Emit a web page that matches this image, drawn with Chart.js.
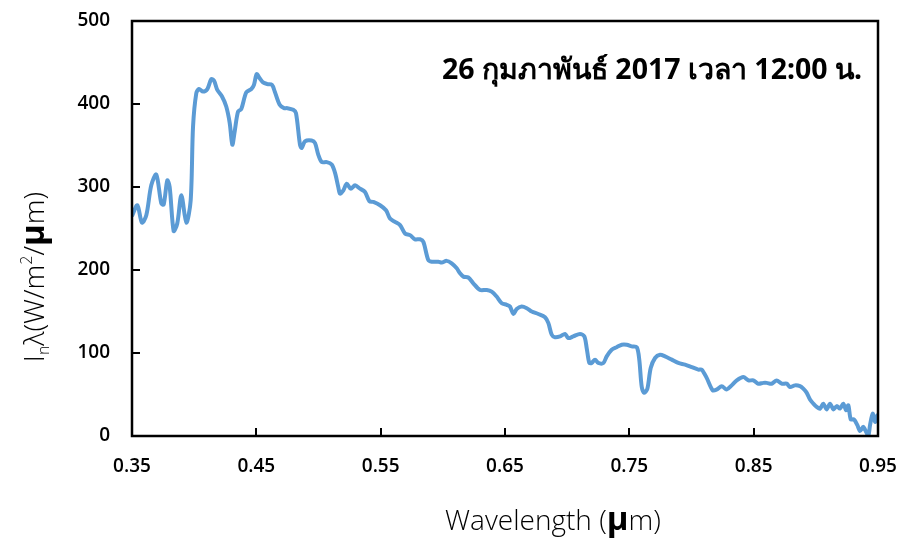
<!DOCTYPE html>
<html>
<head>
<meta charset="utf-8">
<title>Solar spectral irradiance</title>
<script src="https://cdn.jsdelivr.net/npm/chart.js@4"></script>
<style>
    html, body { margin: 0; padding: 0; background: #fff; }
    #wrap { width: 904px; height: 539px; }
</style>
</head>
<body>
<div id="wrap"><canvas id="spectrumChart" width="904" height="539"></canvas></div>
<script>
// Wavelength (µm) and direct normal irradiance (W/m²/µm)
const wavelengths = [
    0.350, 0.3543, 0.3580, 0.3615, 0.3655, 0.3695, 0.3736, 0.3755, 0.3784, 0.3803,
    0.3835, 0.3864, 0.3897, 0.3937, 0.3972, 0.3991, 0.4017, 0.4039, 0.4071, 0.4106,
    0.4138, 0.4160, 0.4186, 0.4224, 0.4258, 0.4286, 0.4307, 0.4326, 0.4353, 0.4379,
    0.4419, 0.4460, 0.4481, 0.4503, 0.4527, 0.4554, 0.4588, 0.4626, 0.4648, 0.4688,
    0.4723, 0.4749, 0.4797, 0.4819, 0.4851, 0.4865, 0.4891, 0.4945, 0.4972, 0.4998,
    0.5026, 0.5066, 0.5106, 0.5133, 0.5159, 0.5173, 0.5200, 0.5227, 0.5259, 0.5294,
    0.5334, 0.5374, 0.5409, 0.5441, 0.5495, 0.5543, 0.5575, 0.5615, 0.5656, 0.5696,
    0.5736, 0.5776, 0.5816, 0.5843, 0.5883, 0.5911, 0.5964, 0.5991, 0.6031, 0.6071,
    0.6112, 0.6138, 0.6165, 0.6205, 0.6245, 0.6299, 0.6353, 0.6393, 0.6433, 0.6474,
    0.6514, 0.6540, 0.6567, 0.6594, 0.6634, 0.6675, 0.6715, 0.6768, 0.6822, 0.6849,
    0.6876, 0.6902, 0.6943, 0.6983, 0.7009, 0.7049, 0.7103, 0.7138, 0.7157, 0.7178,
    0.7197, 0.7224, 0.7250, 0.7291, 0.7318, 0.7358, 0.7398, 0.7439, 0.7479, 0.7519,
    0.7560, 0.7580, 0.7600, 0.7620, 0.7645, 0.7672, 0.7707, 0.7747, 0.7787, 0.7841,
    0.7894, 0.7948, 0.8002, 0.8055, 0.8082, 0.8122, 0.8171, 0.8203, 0.8243, 0.8283,
    0.8323, 0.8364, 0.8417, 0.8458, 0.8498, 0.8537, 0.8578, 0.8605, 0.8645, 0.8685,
    0.8725, 0.8766, 0.8792, 0.8832, 0.8873, 0.8899, 0.8927, 0.8953, 0.8980, 0.9007,
    0.9034, 0.9060, 0.9087, 0.9114, 0.9141, 0.9168, 0.9194, 0.9221, 0.9243, 0.9261,
    0.9281, 0.9307, 0.9334, 0.9355, 0.9382, 0.9404, 0.9422, 0.9436, 0.9457, 0.9476,
    0.9495, 0.9503
];
const irradiance = [
    265, 278, 257, 266, 302, 315, 280, 279, 308, 300,
    247, 256, 290, 257, 284, 373, 413, 418, 415, 418,
    430, 428, 417, 409, 397, 377, 351, 367, 391, 394,
    414, 418, 423, 436, 431, 426, 424, 423, 415, 399,
    395, 395, 393, 389, 351, 347, 355, 356, 353, 339,
    330, 330, 327, 317, 300, 292, 296, 304, 298, 302,
    298, 294, 283, 282, 278, 272, 262, 258, 254, 244,
    242, 237, 237, 234, 212, 210, 210, 209, 211, 208,
    202, 196, 192, 191, 184, 176, 176, 174, 168, 160,
    158, 156, 147, 153, 156, 154, 150, 147, 143, 136,
    122, 119, 120, 123, 118, 120, 123, 120, 106, 88,
    88, 92, 88, 88, 96, 104, 107, 110, 110, 108,
    107, 92, 59, 52, 57, 82, 94, 98, 96, 92,
    88, 86, 83, 80, 80, 70, 55, 56, 60, 56,
    61, 67, 71, 67, 67, 63, 64, 64, 63, 67,
    63, 63, 59, 61, 60, 57, 52, 44, 39, 35,
    33, 39, 32, 39, 32, 36, 33, 39, 31, 37,
    20, 20, 13, 6, 11, 5, 0, 13, 27, 17,
    25, 21
];

const xTickValues = [0.35, 0.45, 0.55, 0.65, 0.75, 0.85, 0.95];
const yTickValues = [0, 100, 200, 300, 400, 500];
const chartTitle = '26 กุมภาพันธ์ 2017 เวลา 12:00 น.';

const FONT = "'Open Sans', 'Noto Sans', sans-serif";
const LINE_BLUE = '#5b9bd5';

Chart.defaults.font.family = FONT;
Chart.defaults.color = '#000';

// draw a run of text pieces with mixed fonts / offsets, starting at x
function drawPieces(ctx, pieces, x, y) {
    pieces.forEach(p => {
        ctx.font = p.font;
        ctx.fillText(p.text, x, y + (p.dy || 0));
        x += ctx.measureText(p.text).width;
    });
}

function piecesWidth(ctx, pieces) {
    return pieces.reduce((w, p) => {
        ctx.font = p.font;
        return w + ctx.measureText(p.text).width;
    }, 0);
}

// keep the tick labels from pushing the plot area inwards
function noOverflow(scale) {
    scale.paddingLeft = 0;
    scale.paddingRight = 0;
    scale.paddingTop = 0;
    scale.paddingBottom = 0;
}

// frame, inward ticks, axis titles and the date caption
const framePlugin = {
    id: 'framePlugin',
    afterDatasetsDraw(chart) {
        const { ctx, chartArea: a, scales } = chart;
        ctx.save();
        ctx.strokeStyle = '#000';
        ctx.lineWidth = 2.5;
        ctx.strokeRect(a.left, a.top, a.right - a.left, a.bottom - a.top);

        ctx.lineWidth = 2;
        ctx.beginPath();
        yTickValues.forEach(v => {
            const py = Math.round(scales.y.getPixelForValue(v));
            ctx.moveTo(a.left, py);
            ctx.lineTo(a.left + 8, py);
        });
        xTickValues.forEach(v => {
            const px = Math.round(scales.x.getPixelForValue(v));
            ctx.moveTo(px, a.bottom);
            ctx.lineTo(px, a.bottom - 8);
        });
        ctx.stroke();

        ctx.fillStyle = '#000';
        ctx.textBaseline = 'alphabetic';

        // caption
        ctx.textAlign = 'right';
        ctx.font = "bold 28.5px 'Noto Sans', 'DejaVu Sans', sans-serif";
        ctx.fillText(chartTitle, 862, 79);

        ctx.textAlign = 'left';

        // x axis title
        const xTitle = [
            { text: 'Wavelength (', font: `300 28px ${FONT}` },
            { text: 'µ', font: `bold 33px ${FONT}` },
            { text: 'm)', font: `300 28px ${FONT}` }
        ];
        const xw = piecesWidth(ctx, xTitle);
        drawPieces(ctx, xTitle, 553 - xw / 2, 530);

        // y axis title, rotated
        const yTitle = [
            { text: 'I', font: `300 28px ${FONT}` },
            { text: 'n', font: `300 16px ${FONT}`, dy: 5 },
            { text: 'λ', font: `300 28px ${FONT}` },
            { text: '(W/m', font: `300 28px ${FONT}` },
            { text: '2', font: `300 16px ${FONT}`, dy: -12 },
            { text: '/', font: `300 28px ${FONT}` },
            { text: 'µ', font: `bold 33px ${FONT}` },
            { text: 'm)', font: `300 28px ${FONT}` }
        ];
        const yw = piecesWidth(ctx, yTitle);
        ctx.translate(44, 277);
        ctx.rotate(-Math.PI / 2);
        drawPieces(ctx, yTitle, -yw / 2, 0);
        ctx.restore();
    }
};

const ctx = document.getElementById('spectrumChart').getContext('2d');

new Chart(ctx, {
    type: 'line',
    data: {
        datasets: [{
            label: 'Irradiance',
            data: wavelengths.map((w, i) => ({ x: w, y: irradiance[i] })),
            borderColor: LINE_BLUE,
            borderWidth: 4,
            pointRadius: 0,
            tension: 0.3,
            fill: false
        }]
    },
    options: {
        responsive: false,
        animation: false,
        layout: {
            padding: { top: 21, right: 26, left: 0, bottom: 0 }
        },
        plugins: {
            legend: { display: false },
            tooltip: { enabled: false }
        },
        scales: {
            x: {
                type: 'linear',
                min: 0.35,
                max: 0.95,
                afterBuildTicks: scale => {
                    scale.ticks = xTickValues.map(v => ({ value: v }));
                },
                afterFit: scale => {
                    scale.height = 103;
                    noOverflow(scale);
                },
                grid: { display: false, drawTicks: false },
                border: { display: false },
                ticks: {
                    padding: 19,
                    maxRotation: 0,
                    font: { size: 19, weight: 600 },
                    callback: v => v.toFixed(2)
                }
            },
            y: {
                min: 0,
                max: 500,
                afterBuildTicks: scale => {
                    scale.ticks = yTickValues.map(v => ({ value: v }));
                },
                afterFit: scale => {
                    scale.width = 132;
                    noOverflow(scale);
                },
                grid: { display: false, drawTicks: false },
                border: { display: false },
                ticks: {
                    padding: 22,
                    font: { size: 19, weight: 600 }
                }
            }
        }
    },
    plugins: [framePlugin]
});
</script>
</body>
</html>
